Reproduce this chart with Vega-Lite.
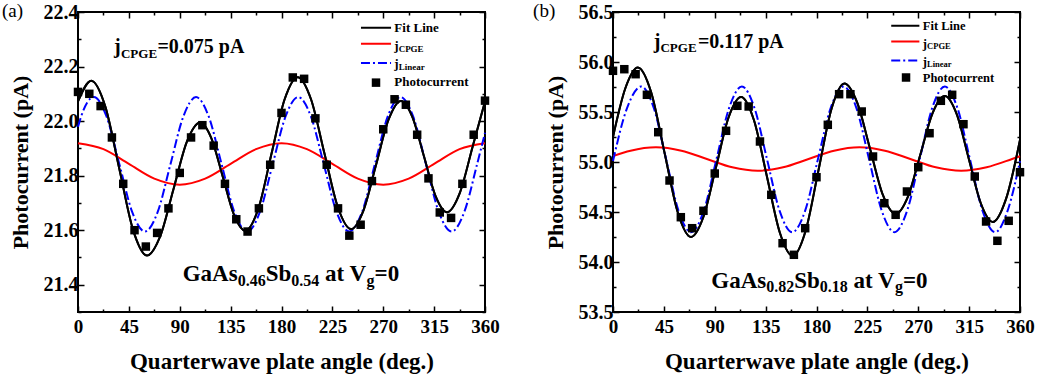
{
"$schema": "https://vega.github.io/schema/vega-lite/v6.json",
"padding": {"left": 1, "top": 0, "right": 0, "bottom": 0},
"spacing": 31,
"config": {
  "view": {"stroke": "black", "strokeWidth": 2},
  "font": "Liberation Serif",
  "axis": {"labelFont": "Liberation Serif", "labelFontSize": 19, "labelFontWeight": "bold", "labelColor": "black",
           "titleFont": "Liberation Serif", "titleFontWeight": "bold", "titleFontSize": 22, "titleColor": "black",
           "tickColor": "black", "tickWidth": 1.5, "grid": false, "domain": false, "labelFlush": false, "labelOverlap": false},
  "axisX": {"titleFontSize": 23},
  "axisY": {"labelFontSize": 20}
},
"datasets": {
  "fitA": [{"x":0,"v":22.072},{"x":11.8,"v":22.148},{"x":24.1,"v":22.054},{"x":36.4,"v":21.828},{"x":48.7,"v":21.601},{"x":61,"v":21.507},{"x":72.75,"v":21.578},{"x":84.5,"v":21.751},{"x":96.25,"v":21.924},{"x":108,"v":21.995},{"x":118,"v":21.937},{"x":128,"v":21.797},{"x":138,"v":21.656},{"x":148,"v":21.598},{"x":159.6,"v":21.68},{"x":171.15,"v":21.88},{"x":182.7,"v":22.079},{"x":194.3,"v":22.161},{"x":206.1,"v":22.08},{"x":217.9,"v":21.883},{"x":229.7,"v":21.686},{"x":241.5,"v":21.604},{"x":252.55,"v":21.673},{"x":263.6,"v":21.839},{"x":274.65,"v":22.005},{"x":285.7,"v":22.074},{"x":295.9,"v":22.014},{"x":306.05,"v":21.87},{"x":316.2,"v":21.726},{"x":326.4,"v":21.666},{"x":337.75,"v":21.737},{"x":349.1,"v":21.907},{"x":360,"v":22.072}],
  "cpgeA": [{"x":0,"v":21.919},{"x":22.5,"v":21.897},{"x":45,"v":21.843},{"x":67.5,"v":21.789},{"x":90,"v":21.767},{"x":112.5,"v":21.789},{"x":135,"v":21.843},{"x":157.5,"v":21.897},{"x":180,"v":21.919},{"x":202.5,"v":21.897},{"x":225,"v":21.843},{"x":247.5,"v":21.789},{"x":270,"v":21.767},{"x":292.5,"v":21.789},{"x":315,"v":21.843},{"x":337.5,"v":21.897},{"x":360,"v":21.919}],
  "linA": [{"x":0,"v":21.979},{"x":2.7,"v":22.016},{"x":14,"v":22.088},{"x":25.3,"v":22.016},{"x":36.6,"v":21.842},{"x":47.9,"v":21.667},{"x":59.2,"v":21.595},{"x":70.5,"v":21.667},{"x":81.8,"v":21.842},{"x":93.1,"v":22.016},{"x":104.4,"v":22.088},{"x":115.7,"v":22.016},{"x":127,"v":21.842},{"x":138.3,"v":21.667},{"x":149.6,"v":21.595},{"x":160.9,"v":21.667},{"x":172.2,"v":21.842},{"x":183.5,"v":22.016},{"x":194.8,"v":22.088},{"x":206.1,"v":22.016},{"x":217.4,"v":21.842},{"x":228.7,"v":21.667},{"x":240,"v":21.595},{"x":251.3,"v":21.667},{"x":262.6,"v":21.842},{"x":273.9,"v":22.016},{"x":285.2,"v":22.088},{"x":296.5,"v":22.016},{"x":307.8,"v":21.842},{"x":319.1,"v":21.667},{"x":330.4,"v":21.595},{"x":341.7,"v":21.667},{"x":353,"v":21.842},{"x":360,"v":21.957}],
  "ptsA": [{"x":0,"v":22.107},{"x":10,"v":22.1},{"x":20,"v":22.055},{"x":30,"v":21.94},{"x":40,"v":21.77},{"x":50,"v":21.6},{"x":60,"v":21.54},{"x":70,"v":21.59},{"x":80,"v":21.68},{"x":90,"v":21.81},{"x":100,"v":21.94},{"x":110,"v":21.985},{"x":120,"v":21.91},{"x":130,"v":21.77},{"x":140,"v":21.64},{"x":150,"v":21.595},{"x":160,"v":21.68},{"x":170,"v":21.84},{"x":180,"v":22.03},{"x":190,"v":22.16},{"x":200,"v":22.155},{"x":210,"v":22.01},{"x":220,"v":21.84},{"x":230,"v":21.68},{"x":240,"v":21.58},{"x":250,"v":21.62},{"x":260,"v":21.78},{"x":270,"v":21.97},{"x":280,"v":22.08},{"x":290,"v":22.06},{"x":300,"v":21.95},{"x":310,"v":21.79},{"x":320,"v":21.665},{"x":330,"v":21.645},{"x":340,"v":21.77},{"x":350,"v":21.95},{"x":360,"v":22.075}],
  "legA": [{"s":"fit","x":250.3,"x2":276.9,"v":22.3425},{"s":"cpge","x":250.3,"x2":276.9,"v":22.284},{"s":"lin","x":250.3,"x2":276.9,"v":22.213}],
  "legPtA": [{"x":263.6,"v":22.141}],
  "textA": [
    {"role":"legend","t":"Fit Line","x":279.8,"v":22.327},
    {"role":"legend","t":"j","x":279.8,"v":22.261},
    {"role":"legend","t":"j","x":279.8,"v":22.195},
    {"role":"legend","t":"Photocurrent","x":279.8,"v":22.129},
    {"role":"legendSub","t":"CPGE","x":283.6,"v":22.252},
    {"role":"legendSub","t":"Linear","x":283.6,"v":22.186},
    {"role":"note","t":"j","x":31.9,"v":22.251},
    {"role":"note","t":"=0.075 pA","x":70.3,"v":22.251},
    {"role":"noteSub","t":"CPGE","x":38.0,"v":22.232},
    {"role":"sample","t":"GaAs","x":92.6,"v":21.413},
    {"role":"sample","t":"Sb","x":166.0,"v":21.413},
    {"role":"sample","t":"at V","x":218.5,"v":21.413},
    {"role":"sample","t":"=0","x":262.3,"v":21.413},
    {"role":"sampleSub","t":"0.46","x":141.3,"v":21.396},
    {"role":"sampleSub","t":"0.54","x":188.7,"v":21.396},
    {"role":"sampleSub","t":"g","x":255.2,"v":21.396},
    {"role":"panel","t":"(a)","x":-67.2,"v":22.382}
  ],
  "fitB": [{"x":0,"v":55.25},{"x":11,"v":55.74},{"x":22,"v":55.945},{"x":33.75,"v":55.697},{"x":45.5,"v":55.098},{"x":57.25,"v":54.498},{"x":69,"v":54.25},{"x":80.1,"v":54.455},{"x":91.15,"v":54.95},{"x":102.2,"v":55.445},{"x":113.3,"v":55.65},{"x":124.7,"v":55.417},{"x":136.15,"v":54.855},{"x":147.6,"v":54.293},{"x":159,"v":54.06},{"x":170.4,"v":54.313},{"x":181.85,"v":54.923},{"x":193.3,"v":55.533},{"x":204.7,"v":55.785},{"x":216,"v":55.594},{"x":227.35,"v":55.133},{"x":238.7,"v":54.671},{"x":250,"v":54.48},{"x":260.9,"v":54.653},{"x":271.75,"v":55.07},{"x":282.6,"v":55.487},{"x":293.5,"v":55.66},{"x":304.1,"v":55.476},{"x":314.75,"v":55.03},{"x":325.4,"v":54.585},{"x":336,"v":54.4},{"x":347.5,"v":54.626},{"x":360,"v":55.22}],
  "cpgeB": [{"x":0,"v":55.059},{"x":15.5,"v":55.113},{"x":38,"v":55.147},{"x":60.5,"v":55.113},{"x":83,"v":55.03},{"x":105.5,"v":54.947},{"x":128,"v":54.913},{"x":150.5,"v":54.947},{"x":173,"v":55.03},{"x":195.5,"v":55.113},{"x":218,"v":55.147},{"x":240.5,"v":55.113},{"x":263,"v":55.03},{"x":285.5,"v":54.947},{"x":308,"v":54.913},{"x":330.5,"v":54.947},{"x":353,"v":55.03},{"x":360,"v":55.058}],
  "linB": [{"x":0,"v":55.01},{"x":12.5,"v":55.542},{"x":25,"v":55.755},{"x":36,"v":55.542},{"x":47,"v":55.027},{"x":58,"v":54.511},{"x":69,"v":54.298},{"x":80.25,"v":54.511},{"x":91.5,"v":55.027},{"x":102.75,"v":55.542},{"x":114,"v":55.755},{"x":125.1,"v":55.542},{"x":136.25,"v":55.027},{"x":147.4,"v":54.511},{"x":158.5,"v":54.298},{"x":169.9,"v":54.511},{"x":181.25,"v":55.027},{"x":192.6,"v":55.542},{"x":204,"v":55.755},{"x":215.25,"v":55.542},{"x":226.5,"v":55.027},{"x":237.75,"v":54.511},{"x":249,"v":54.298},{"x":260.1,"v":54.511},{"x":271.25,"v":55.027},{"x":282.4,"v":55.542},{"x":293.5,"v":55.755},{"x":304.6,"v":55.542},{"x":315.75,"v":55.027},{"x":326.9,"v":54.511},{"x":338,"v":54.298},{"x":349,"v":54.511},{"x":360,"v":55.01}],
  "ptsB": [{"x":0,"v":55.912},{"x":10,"v":55.928},{"x":20,"v":55.878},{"x":30,"v":55.672},{"x":40,"v":55.298},{"x":50,"v":54.815},{"x":60,"v":54.448},{"x":70,"v":54.338},{"x":80,"v":54.512},{"x":90,"v":54.885},{"x":100,"v":55.312},{"x":110,"v":55.562},{"x":120,"v":55.555},{"x":130,"v":55.205},{"x":140,"v":54.672},{"x":150,"v":54.188},{"x":160,"v":54.072},{"x":170,"v":54.338},{"x":180,"v":54.848},{"x":190,"v":55.372},{"x":200,"v":55.678},{"x":210,"v":55.678},{"x":220,"v":55.505},{"x":230,"v":55.055},{"x":240,"v":54.588},{"x":250,"v":54.472},{"x":260,"v":54.705},{"x":270,"v":54.948},{"x":280,"v":55.288},{"x":290,"v":55.612},{"x":300,"v":55.672},{"x":310,"v":55.378},{"x":320,"v":54.855},{"x":330,"v":54.405},{"x":340,"v":54.212},{"x":350,"v":54.412},{"x":360,"v":54.898}],
  "legB": [{"s":"fit","x":246.1,"x2":271.0,"v":56.362},{"s":"cpge","x":246.1,"x2":271.0,"v":56.205},{"s":"lin","x":246.1,"x2":271.0,"v":56.015}],
  "legPtB": [{"x":259.2,"v":55.845}],
  "textB": [
    {"role":"legend","t":"Fit Line","x":274,"v":56.325},
    {"role":"legend","t":"j","x":274,"v":56.145},
    {"role":"legend","t":"j","x":274,"v":55.965},
    {"role":"legend","t":"Photocurrent","x":274,"v":55.805},
    {"role":"legendSub","t":"CPGE","x":277.8,"v":56.132},
    {"role":"legendSub","t":"Linear","x":277.8,"v":55.952},
    {"role":"note","t":"j","x":36.1,"v":56.138},
    {"role":"note","t":"=0.117 pA","x":75.1,"v":56.138},
    {"role":"noteSub","t":"CPGE","x":42.0,"v":56.097},
    {"role":"sample","t":"GaAs","x":86.9,"v":53.745},
    {"role":"sample","t":"Sb","x":160.3,"v":53.745},
    {"role":"sample","t":"at V","x":212.7,"v":53.745},
    {"role":"sample","t":"=0","x":256.5,"v":53.745},
    {"role":"sampleSub","t":"0.82","x":135.5,"v":53.705},
    {"role":"sampleSub","t":"0.18","x":182.9,"v":53.705},
    {"role":"sampleSub","t":"g","x":249.4,"v":53.705},
    {"role":"panel","t":"(b)","x":-70.7,"v":56.455}
  ]
},
"hconcat": [
{
  "width": 407, "height": 300,
  "resolve": {"axis": {"x": "independent", "y": "independent"}},
  "layer": [
    {"data": {"name": "fitA"}, "mark": {"type": "line", "color": "black", "strokeWidth": 2, "interpolate": "monotone"},
     "encoding": {
       "x": {"field": "x", "type": "quantitative", "scale": {"domain": [0, 360], "nice": false},
             "axis": {"orient": "bottom", "values": [0,22.5,45,67.5,90,112.5,135,157.5,180,202.5,225,247.5,270,292.5,315,337.5,360],
                      "labelExpr": "datum.value % 45 == 0 ? format(datum.value, 'd') : ''",
                      "tickSize": {"condition": {"test": "datum.value % 45 == 0", "value": -6}, "value": -3},
                      "labelPadding": 11, "title": "Quarterwave plate angle (deg.)", "titlePadding": 11}},
       "y": {"field": "v", "type": "quantitative", "scale": {"domain": [21.3, 22.4], "nice": false, "zero": false},
             "axis": {"orient": "left", "values": [21.3,21.4,21.5,21.6,21.7,21.8,21.9,22,22.1,22.2,22.3,22.4],
                      "labelExpr": "round(datum.value*10) % 2 == 0 ? format(datum.value, '.1f') : ''",
                      "tickSize": {"condition": {"test": "round(datum.value*10) % 2 == 0", "value": -6}, "value": -3},
                      "labelPadding": 6, "title": "Photocurrent (pA)", "titlePadding": 11}}
     }},
    {"data": {"name": "fitA"}, "mark": {"type": "line", "opacity": 0},
     "encoding": {
       "x": {"field": "x", "type": "quantitative",
             "axis": {"orient": "top", "values": [0,22.5,45,67.5,90,112.5,135,157.5,180,202.5,225,247.5,270,292.5,315,337.5,360],
                      "labels": false, "title": null,
                      "tickSize": {"condition": {"test": "datum.value % 45 == 0", "value": -6}, "value": -3}}},
       "y": {"field": "v", "type": "quantitative",
             "axis": {"orient": "right", "values": [21.3,21.4,21.5,21.6,21.7,21.8,21.9,22,22.1,22.2,22.3,22.4],
                      "labels": false, "title": null,
                      "tickSize": {"condition": {"test": "round(datum.value*10) % 2 == 0", "value": -6}, "value": -3}}}
     }},
    {"data": {"name": "cpgeA"}, "mark": {"type": "line", "color": "#ff0000", "strokeWidth": 2, "interpolate": "monotone"},
     "encoding": {"x": {"field": "x", "type": "quantitative", "axis": null}, "y": {"field": "v", "type": "quantitative", "axis": null}}},
    {"data": {"name": "linA"}, "mark": {"type": "line", "color": "#0000ff", "strokeWidth": 2, "strokeDash": [9, 3, 2, 3], "interpolate": "monotone"},
     "encoding": {"x": {"field": "x", "type": "quantitative", "axis": null}, "y": {"field": "v", "type": "quantitative", "axis": null}}},
    {"data": {"name": "fitA"}, "mark": {"type": "line", "color": "black", "strokeWidth": 2, "interpolate": "monotone"},
     "encoding": {"x": {"field": "x", "type": "quantitative", "axis": null}, "y": {"field": "v", "type": "quantitative", "axis": null}}},
    {"data": {"name": "ptsA"}, "mark": {"type": "point", "shape": "square", "filled": true, "color": "black", "size": 72, "opacity": 1},
     "encoding": {"x": {"field": "x", "type": "quantitative", "axis": null}, "y": {"field": "v", "type": "quantitative", "axis": null}}},
    {"data": {"name": "legA"}, "mark": {"type": "rule", "strokeWidth": 2},
     "encoding": {"x": {"field": "x", "type": "quantitative", "axis": null}, "x2": {"field": "x2"}, "y": {"field": "v", "type": "quantitative", "axis": null},
                  "color": {"field": "s", "type": "nominal", "scale": {"domain": ["fit","cpge","lin"], "range": ["black","#ff0000","#0000ff"]}, "legend": null},
                  "strokeDash": {"field": "s", "type": "nominal", "scale": {"domain": ["fit","cpge","lin"], "range": [[1,0],[1,0],[9,3,2,3]]}, "legend": null}}},
    {"data": {"name": "legPtA"}, "mark": {"type": "point", "shape": "square", "filled": true, "color": "black", "size": 72, "opacity": 1},
     "encoding": {"x": {"field": "x", "type": "quantitative", "axis": null}, "y": {"field": "v", "type": "quantitative", "axis": null}}},
    {"data": {"name": "textA"}, "transform": [{"filter": "datum.role == 'legend'"}],
     "mark": {"type": "text", "font": "Liberation Serif", "fontWeight": "bold", "fontSize": 13, "align": "left", "baseline": "alphabetic", "color": "black"},
     "encoding": {"x": {"field": "x", "type": "quantitative", "axis": null}, "y": {"field": "v", "type": "quantitative", "axis": null}, "text": {"field": "t"}}},
    {"data": {"name": "textA"}, "transform": [{"filter": "datum.role == 'legendSub'"}],
     "mark": {"type": "text", "font": "Liberation Serif", "fontWeight": "bold", "fontSize": 9, "align": "left", "baseline": "alphabetic", "color": "black"},
     "encoding": {"x": {"field": "x", "type": "quantitative", "axis": null}, "y": {"field": "v", "type": "quantitative", "axis": null}, "text": {"field": "t"}}},
    {"data": {"name": "textA"}, "transform": [{"filter": "datum.role == 'note'"}],
     "mark": {"type": "text", "font": "Liberation Serif", "fontWeight": "bold", "fontSize": 20, "align": "left", "baseline": "alphabetic", "color": "black"},
     "encoding": {"x": {"field": "x", "type": "quantitative", "axis": null}, "y": {"field": "v", "type": "quantitative", "axis": null}, "text": {"field": "t"}}},
    {"data": {"name": "textA"}, "transform": [{"filter": "datum.role == 'noteSub'"}],
     "mark": {"type": "text", "font": "Liberation Serif", "fontWeight": "bold", "fontSize": 13, "align": "left", "baseline": "alphabetic", "color": "black"},
     "encoding": {"x": {"field": "x", "type": "quantitative", "axis": null}, "y": {"field": "v", "type": "quantitative", "axis": null}, "text": {"field": "t"}}},
    {"data": {"name": "textA"}, "transform": [{"filter": "datum.role == 'sample'"}],
     "mark": {"type": "text", "font": "Liberation Serif", "fontWeight": "bold", "fontSize": 23, "align": "left", "baseline": "alphabetic", "color": "black"},
     "encoding": {"x": {"field": "x", "type": "quantitative", "axis": null}, "y": {"field": "v", "type": "quantitative", "axis": null}, "text": {"field": "t"}}},
    {"data": {"name": "textA"}, "transform": [{"filter": "datum.role == 'sampleSub'"}],
     "mark": {"type": "text", "font": "Liberation Serif", "fontWeight": "bold", "fontSize": 16, "align": "left", "baseline": "alphabetic", "color": "black"},
     "encoding": {"x": {"field": "x", "type": "quantitative", "axis": null}, "y": {"field": "v", "type": "quantitative", "axis": null}, "text": {"field": "t"}}},
    {"data": {"name": "textA"}, "transform": [{"filter": "datum.role == 'panel'"}],
     "mark": {"type": "text", "font": "Liberation Serif", "fontWeight": "normal", "fontSize": 19, "align": "left", "baseline": "alphabetic", "color": "black"},
     "encoding": {"x": {"field": "x", "type": "quantitative", "axis": null}, "y": {"field": "v", "type": "quantitative", "axis": null}, "text": {"field": "t"}}}
  ]
},
{
  "width": 407, "height": 300,
  "resolve": {"axis": {"x": "independent", "y": "independent"}},
  "layer": [
    {"data": {"name": "fitB"}, "mark": {"type": "line", "color": "black", "strokeWidth": 2, "interpolate": "monotone"},
     "encoding": {
       "x": {"field": "x", "type": "quantitative", "scale": {"domain": [0, 360], "nice": false},
             "axis": {"orient": "bottom", "values": [0,22.5,45,67.5,90,112.5,135,157.5,180,202.5,225,247.5,270,292.5,315,337.5,360],
                      "labelExpr": "datum.value % 45 == 0 ? format(datum.value, 'd') : ''",
                      "tickSize": {"condition": {"test": "datum.value % 45 == 0", "value": -6}, "value": -3},
                      "labelPadding": 11, "title": "Quarterwave plate angle (deg.)", "titlePadding": 11}},
       "y": {"field": "v", "type": "quantitative", "scale": {"domain": [53.5, 56.5], "nice": false, "zero": false},
             "axis": {"orient": "left", "values": [53.5,53.75,54,54.25,54.5,54.75,55,55.25,55.5,55.75,56,56.25,56.5],
                      "labelExpr": "round(datum.value*4) % 2 == 0 ? format(datum.value, '.1f') : ''",
                      "tickSize": {"condition": {"test": "round(datum.value*4) % 2 == 0", "value": -6}, "value": -3},
                      "labelPadding": 6, "title": "Photocurrent (pA)", "titlePadding": 11}}
     }},
    {"data": {"name": "fitB"}, "mark": {"type": "line", "opacity": 0},
     "encoding": {
       "x": {"field": "x", "type": "quantitative",
             "axis": {"orient": "top", "values": [0,22.5,45,67.5,90,112.5,135,157.5,180,202.5,225,247.5,270,292.5,315,337.5,360],
                      "labels": false, "title": null,
                      "tickSize": {"condition": {"test": "datum.value % 45 == 0", "value": -6}, "value": -3}}},
       "y": {"field": "v", "type": "quantitative",
             "axis": {"orient": "right", "values": [53.5,53.75,54,54.25,54.5,54.75,55,55.25,55.5,55.75,56,56.25,56.5],
                      "labels": false, "title": null,
                      "tickSize": {"condition": {"test": "round(datum.value*4) % 2 == 0", "value": -6}, "value": -3}}}
     }},
    {"data": {"name": "cpgeB"}, "mark": {"type": "line", "color": "#ff0000", "strokeWidth": 2, "interpolate": "monotone"},
     "encoding": {"x": {"field": "x", "type": "quantitative", "axis": null}, "y": {"field": "v", "type": "quantitative", "axis": null}}},
    {"data": {"name": "linB"}, "mark": {"type": "line", "color": "#0000ff", "strokeWidth": 2, "strokeDash": [9, 3, 2, 3], "interpolate": "monotone"},
     "encoding": {"x": {"field": "x", "type": "quantitative", "axis": null}, "y": {"field": "v", "type": "quantitative", "axis": null}}},
    {"data": {"name": "fitB"}, "mark": {"type": "line", "color": "black", "strokeWidth": 2, "interpolate": "monotone"},
     "encoding": {"x": {"field": "x", "type": "quantitative", "axis": null}, "y": {"field": "v", "type": "quantitative", "axis": null}}},
    {"data": {"name": "ptsB"}, "mark": {"type": "point", "shape": "square", "filled": true, "color": "black", "size": 72, "opacity": 1},
     "encoding": {"x": {"field": "x", "type": "quantitative", "axis": null}, "y": {"field": "v", "type": "quantitative", "axis": null}}},
    {"data": {"name": "legB"}, "mark": {"type": "rule", "strokeWidth": 2},
     "encoding": {"x": {"field": "x", "type": "quantitative", "axis": null}, "x2": {"field": "x2"}, "y": {"field": "v", "type": "quantitative", "axis": null},
                  "color": {"field": "s", "type": "nominal", "scale": {"domain": ["fit","cpge","lin"], "range": ["black","#ff0000","#0000ff"]}, "legend": null},
                  "strokeDash": {"field": "s", "type": "nominal", "scale": {"domain": ["fit","cpge","lin"], "range": [[1,0],[1,0],[9,3,2,3]]}, "legend": null}}},
    {"data": {"name": "legPtB"}, "mark": {"type": "point", "shape": "square", "filled": true, "color": "black", "size": 72, "opacity": 1},
     "encoding": {"x": {"field": "x", "type": "quantitative", "axis": null}, "y": {"field": "v", "type": "quantitative", "axis": null}}},
    {"data": {"name": "textB"}, "transform": [{"filter": "datum.role == 'legend'"}],
     "mark": {"type": "text", "font": "Liberation Serif", "fontWeight": "bold", "fontSize": 12.5, "align": "left", "baseline": "alphabetic", "color": "black"},
     "encoding": {"x": {"field": "x", "type": "quantitative", "axis": null}, "y": {"field": "v", "type": "quantitative", "axis": null}, "text": {"field": "t"}}},
    {"data": {"name": "textB"}, "transform": [{"filter": "datum.role == 'legendSub'"}],
     "mark": {"type": "text", "font": "Liberation Serif", "fontWeight": "bold", "fontSize": 8.5, "align": "left", "baseline": "alphabetic", "color": "black"},
     "encoding": {"x": {"field": "x", "type": "quantitative", "axis": null}, "y": {"field": "v", "type": "quantitative", "axis": null}, "text": {"field": "t"}}},
    {"data": {"name": "textB"}, "transform": [{"filter": "datum.role == 'note'"}],
     "mark": {"type": "text", "font": "Liberation Serif", "fontWeight": "bold", "fontSize": 20, "align": "left", "baseline": "alphabetic", "color": "black"},
     "encoding": {"x": {"field": "x", "type": "quantitative", "axis": null}, "y": {"field": "v", "type": "quantitative", "axis": null}, "text": {"field": "t"}}},
    {"data": {"name": "textB"}, "transform": [{"filter": "datum.role == 'noteSub'"}],
     "mark": {"type": "text", "font": "Liberation Serif", "fontWeight": "bold", "fontSize": 13, "align": "left", "baseline": "alphabetic", "color": "black"},
     "encoding": {"x": {"field": "x", "type": "quantitative", "axis": null}, "y": {"field": "v", "type": "quantitative", "axis": null}, "text": {"field": "t"}}},
    {"data": {"name": "textB"}, "transform": [{"filter": "datum.role == 'sample'"}],
     "mark": {"type": "text", "font": "Liberation Serif", "fontWeight": "bold", "fontSize": 23, "align": "left", "baseline": "alphabetic", "color": "black"},
     "encoding": {"x": {"field": "x", "type": "quantitative", "axis": null}, "y": {"field": "v", "type": "quantitative", "axis": null}, "text": {"field": "t"}}},
    {"data": {"name": "textB"}, "transform": [{"filter": "datum.role == 'sampleSub'"}],
     "mark": {"type": "text", "font": "Liberation Serif", "fontWeight": "bold", "fontSize": 16, "align": "left", "baseline": "alphabetic", "color": "black"},
     "encoding": {"x": {"field": "x", "type": "quantitative", "axis": null}, "y": {"field": "v", "type": "quantitative", "axis": null}, "text": {"field": "t"}}},
    {"data": {"name": "textB"}, "transform": [{"filter": "datum.role == 'panel'"}],
     "mark": {"type": "text", "font": "Liberation Serif", "fontWeight": "normal", "fontSize": 19, "align": "left", "baseline": "alphabetic", "color": "black"},
     "encoding": {"x": {"field": "x", "type": "quantitative", "axis": null}, "y": {"field": "v", "type": "quantitative", "axis": null}, "text": {"field": "t"}}}
  ]
}
]
}
